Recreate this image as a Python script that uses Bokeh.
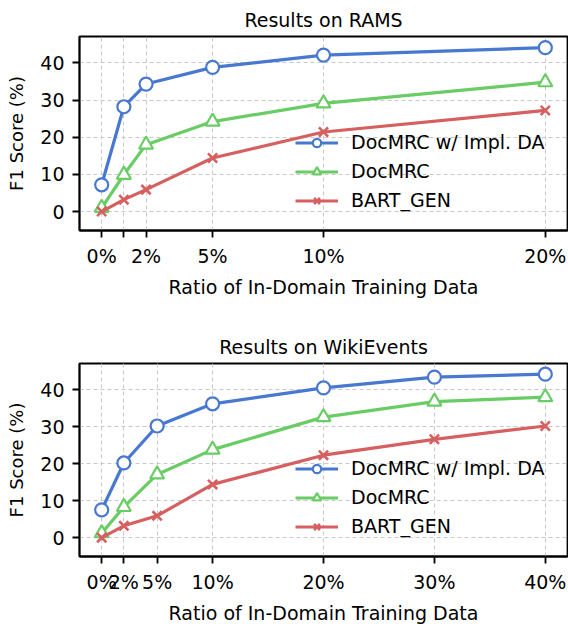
from bokeh.plotting import figure
from bokeh.layouts import column
from bokeh.models import FixedTicker, Range1d, Legend
from bokeh.embed import file_html
from bokeh.resources import INLINE

# ---- data ----
series_names = ["DocMRC w/ Impl. DA", "DocMRC", "BART_GEN"]

rams_x = [0, 1, 2, 5, 10, 20]
rams_impl = [7.2, 28.2, 34.3, 38.8, 42.1, 44.1]
rams_docmrc = [1.0, 9.9, 18.0, 24.2, 29.1, 34.8]
rams_bart = [0.0, 3.2, 5.9, 14.4, 21.4, 27.2]
rams_tick_labels = ["0%", "", "2%", "5%", "10%", "20%"]

wiki_x = [0, 2, 5, 10, 20, 30, 40]
wiki_impl = [7.5, 20.2, 30.2, 36.2, 40.5, 43.4, 44.2]
wiki_docmrc = [1.2, 8.3, 17.1, 23.8, 32.6, 36.8, 38.0]
wiki_bart = [0.0, 3.2, 5.9, 14.4, 22.3, 26.6, 30.2]
wiki_tick_labels = ["0%", "2%", "5%", "10%", "20%", "30%", "40%"]

y_ticks = [0, 10, 20, 30, 40]

titles = ["Results on RAMS", "Results on WikiEvents"]
x_label = "Ratio of In-Domain Training Data"
y_label = "F1 Score (%)"

COLORS = ["#4878cf", "#6acc65", "#d65f5f"]
MARKERS = ["circle", "triangle", "x"]
FONT = "DejaVu Sans"


def make_fig(title, xs, ys_list, tick_labels, xr, height, top, frame_h):
    bottom = height - top - frame_h
    p = figure(width=568, height=height, output_backend="svg", toolbar_location=None,
               x_range=Range1d(*xr), y_range=Range1d(-5.1, 47.1),
               min_border_left=79, min_border_right=1,
               min_border_top=top, min_border_bottom=bottom)
    p.title.text = title
    p.title.align = "center"
    p.title.text_font = FONT
    p.title.text_font_size = "19px"
    p.title.text_font_style = "normal"
    p.title.text_color = "black"
    p.title.standoff = 11

    p.outline_line_color = "black"
    p.outline_line_width = 1.8
    p.outline_line_alpha = 1.0
    p.background_fill_color = "white"

    for ax in (p.xaxis[0], p.yaxis[0]):
        ax.axis_line_color = "black"
        ax.axis_line_width = 1.8
        ax.major_tick_line_color = "black"
        ax.major_tick_line_width = 1.8
        ax.major_tick_out = 7
        ax.major_tick_in = 0
        ax.minor_tick_line_color = None
        ax.major_label_text_font = FONT
        ax.major_label_text_font_size = "19px"
        ax.major_label_text_color = "black"
        ax.axis_label_text_font = FONT
        ax.axis_label_text_font_size = "19px"
        ax.axis_label_text_font_style = "normal"
        ax.axis_label_text_color = "black"

    p.xaxis.ticker = FixedTicker(ticks=xs)
    p.xaxis.major_label_overrides = {x: lab for x, lab in zip(xs, tick_labels)}
    p.xaxis.axis_label = x_label
    p.xaxis.major_label_standoff = 7
    p.xaxis.axis_label_standoff = 6

    p.yaxis.ticker = FixedTicker(ticks=y_ticks)
    p.yaxis.axis_label = y_label
    p.yaxis.axis_label_text_font_size = "18px"
    p.yaxis.major_label_standoff = 8
    p.yaxis.axis_label_standoff = 10

    for g in (p.xgrid[0], p.ygrid[0]):
        g.grid_line_color = "#c8c8c8"
        g.grid_line_dash = "4 3"
        g.grid_line_width = 1

    items = []
    for name, ys, col, mk in zip(series_names, ys_list, COLORS, MARKERS):
        r1 = p.line(xs, ys, line_color=col, line_width=3.2)
        if mk == "x":
            r2 = p.scatter(xs, ys, marker="x", size=13, line_color=col, line_width=2.6)
        else:
            r2 = p.scatter(xs, ys, marker=mk, size=13 if mk == "circle" else 14,
                           line_color=col, fill_color="white", line_width=2.2)
        items.append((name, [r1, r2]))

    leg = Legend(items=items, location=(216, 19))
    leg.background_fill_alpha = 0
    leg.border_line_color = None
    leg.padding = 0
    leg.margin = 0
    leg.spacing = 7
    leg.glyph_width = 43
    leg.glyph_height = 21
    leg.label_height = 21
    leg.label_standoff = 13
    leg.label_text_font = FONT
    leg.label_text_font_size = "19px"
    leg.label_text_color = "black"
    p.add_layout(leg, "center")
    return p


p1 = make_fig(titles[0], rams_x, [rams_impl, rams_docmrc, rams_bart], rams_tick_labels,
              (-1, 21), 300, 36, 199)
p2 = make_fig(titles[1], wiki_x, [wiki_impl, wiki_docmrc, wiki_bart], wiki_tick_labels,
              (-2, 42), 326, 63, 198)

layout = column(p1, p2, spacing=0)
open("out.html", "w").write(file_html(layout, INLINE))
